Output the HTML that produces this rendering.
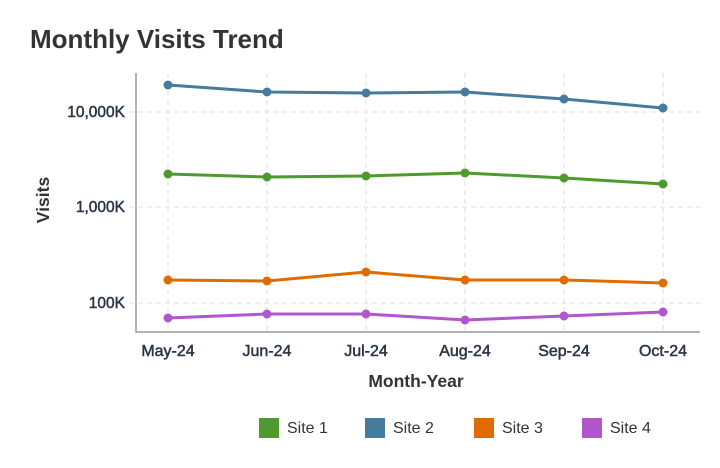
<!DOCTYPE html>
<html><head><meta charset="utf-8"><style>
body{margin:0;background:#fff;width:720px;height:463px;overflow:hidden;font-family:"Liberation Sans",Arial,sans-serif}
</style></head><body>
<svg width="720" height="463" xmlns="http://www.w3.org/2000/svg" font-family="Liberation Sans, Arial, sans-serif">
<text x="30" y="48" font-size="26" font-weight="bold" fill="#333">Monthly Visits Trend</text>
<g stroke="#ddd" stroke-dasharray="5,4" stroke-width="1">
<line x1="129" y1="112" x2="700" y2="112"/><line x1="129" y1="207" x2="700" y2="207"/><line x1="129" y1="303" x2="700" y2="303"/>
<line x1="168" y1="73" x2="168" y2="332"/><line x1="267" y1="73" x2="267" y2="332"/><line x1="366" y1="73" x2="366" y2="332"/><line x1="465" y1="73" x2="465" y2="332"/><line x1="564" y1="73" x2="564" y2="332"/><line x1="663" y1="73" x2="663" y2="332"/>
</g>
<path d="M136 73V332H700" fill="none" stroke="#999" stroke-width="1.5"/>
<g font-size="15.5" fill="#2a3545" text-anchor="end" stroke="#2a3545" stroke-width="0.5">
<text x="125" y="117">10,000K</text><text x="125" y="212">1,000K</text><text x="125" y="308">100K</text></g>
<g font-size="16" fill="#2a3545" text-anchor="middle" stroke="#2a3545" stroke-width="0.5">
<text x="168" y="356">May-24</text><text x="267" y="356">Jun-24</text><text x="366" y="356">Jul-24</text><text x="465" y="356">Aug-24</text><text x="564" y="356">Sep-24</text><text x="663" y="356">Oct-24</text></g>
<text x="416" y="387" font-size="17.5" font-weight="bold" fill="#333" text-anchor="middle">Month-Year</text>
<text transform="translate(49,200) rotate(-90)" font-size="17.5" font-weight="bold" fill="#333" text-anchor="middle">Visits</text>
<g fill="none" stroke-width="3">
<polyline stroke="#457b9d" points="168,85 267,92 366,93 465,92 564,99 663,108"/>
<polyline stroke="#4e9a2f" points="168,174 267,177 366,176 465,173 564,178 663,184"/>
<polyline stroke="#e06c00" points="168,280 267,281 366,272 465,280 564,280 663,283"/>
<polyline stroke="#b057cc" points="168,318 267,314 366,314 465,320 564,316 663,312"/>
</g>
<g fill="#457b9d"><circle cx="168" cy="85" r="4.5"/><circle cx="267" cy="92" r="4.5"/><circle cx="366" cy="93" r="4.5"/><circle cx="465" cy="92" r="4.5"/><circle cx="564" cy="99" r="4.5"/><circle cx="663" cy="108" r="4.5"/></g>
<g fill="#4e9a2f"><circle cx="168" cy="174" r="4.5"/><circle cx="267" cy="177" r="4.5"/><circle cx="366" cy="176" r="4.5"/><circle cx="465" cy="173" r="4.5"/><circle cx="564" cy="178" r="4.5"/><circle cx="663" cy="184" r="4.5"/></g>
<g fill="#e06c00"><circle cx="168" cy="280" r="4.5"/><circle cx="267" cy="281" r="4.5"/><circle cx="366" cy="272" r="4.5"/><circle cx="465" cy="280" r="4.5"/><circle cx="564" cy="280" r="4.5"/><circle cx="663" cy="283" r="4.5"/></g>
<g fill="#b057cc"><circle cx="168" cy="318" r="4.5"/><circle cx="267" cy="314" r="4.5"/><circle cx="366" cy="314" r="4.5"/><circle cx="465" cy="320" r="4.5"/><circle cx="564" cy="316" r="4.5"/><circle cx="663" cy="312" r="4.5"/></g>
<g font-size="16" fill="#333">
<rect x="259" y="418" width="20" height="20" fill="#4e9a2f"/><text x="287" y="433">Site 1</text>
<rect x="365" y="418" width="20" height="20" fill="#457b9d"/><text x="393" y="433">Site 2</text>
<rect x="474" y="418" width="20" height="20" fill="#e06c00"/><text x="502" y="433">Site 3</text>
<rect x="582" y="418" width="20" height="20" fill="#b057cc"/><text x="610" y="433">Site 4</text>
</g>
</svg>
</body></html>
